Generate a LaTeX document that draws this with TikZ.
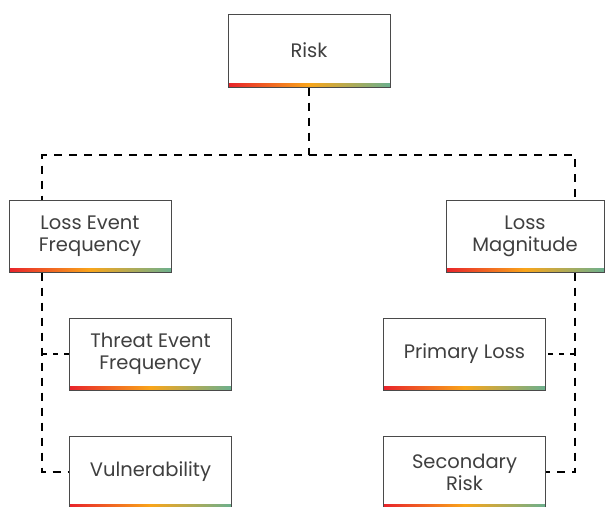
\documentclass[tikz,border=0pt]{standalone}
\usepackage{fontspec}
\setmainfont{Poppins}
\usetikzlibrary{calc}

\definecolor{textgray}{HTML}{3F3F3F}
\definecolor{boxgray}{HTML}{4A4A4A}
\definecolor{barred}{HTML}{E8232B}
\definecolor{barorange}{HTML}{F9A51A}
\definecolor{bargreen}{HTML}{6BB08E}

\tikzset{
  factor/.style={draw=boxgray, line width=1pt, fill=white, align=center,
    text=textgray, minimum width=162pt, minimum height=72pt, inner sep=2pt,
    font=\fontsize{19.5}{22}\selectfont,
    path picture={
      \shade[left color=barred, right color=bargreen, middle color=barorange]
        (path picture bounding box.south west) rectangle
        ($(path picture bounding box.south east)+(0pt,4pt)$);
    }},
  trunk/.style={line width=2.8pt, dash pattern=on 8pt off 7pt},
  branch/.style={line width=2.8pt, dash pattern=on 5pt off 6pt}
}

\begin{document}
\begin{tikzpicture}[x=1pt, y=-1pt]
  \useasboundingbox (0,0) rectangle (605,506);

  % top of the tree
  \node[factor, minimum height=73pt] (risk) at (309,50.5) {Risk};

  % second level
  \node[factor] (lef) at (90,236) {Loss Event\\Frequency};
  \node[factor, minimum width=158pt] (lm) at (525,236) {Loss\\Magnitude};

  % third level
  \node[factor] (tef) at (150.5,354) {Threat Event\\Frequency};
  \node[factor] (vul) at (150.5,472) {Vulnerability};
  \node[factor] (pl) at (464.5,354) {Primary Loss};
  \node[factor] (sr) at (464.5,472) {Secondary\\Risk};

  \coordinate (split) at (309,155);
  \coordinate (lefdrop) at (42,272.5);
  \coordinate (lmdrop) at (575,272.5);

  % connectors
  \draw[trunk] (risk.south) -- (split) -| (lef.north -| lefdrop);
  \draw[trunk] (split) -| (lm.north -| lmdrop);
  \draw[trunk] (lefdrop) -- (lefdrop |- vul.west) -- (vul.west);
  \draw[branch] (lefdrop |- tef.west) -- (tef.west);
  \draw[trunk] (lmdrop) -- (lmdrop |- sr.east) -- (sr.east);
  \draw[branch] (lmdrop |- pl.east) -- (pl.east);
\end{tikzpicture}
\end{document}
